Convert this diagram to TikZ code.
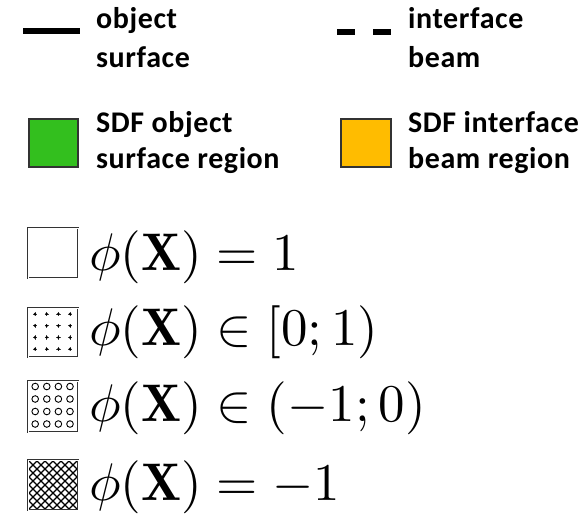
\documentclass[tikz,border=0pt]{standalone}
\usepackage{fontspec}
\newfontfamily\calibri[LetterSpace=2]{Carlito}
\definecolor{sdfgreen}{RGB}{51,191,30}
\definecolor{sdforange}{RGB}{255,188,0}
\begin{document}
\begin{tikzpicture}[x=1pt,y=-1pt,
  lbl/.style={font=\calibri\bfseries\fontsize{30}{36}\selectfont, anchor=base west, inner sep=0pt},
  mth/.style={font=\normalsize, scale=5.3, anchor=base west, inner sep=0pt},
  legline/.style={line width=6pt},
  swatch/.style={draw=black!80, line width=1.2pt},
  mbox/.style={draw=black!80, line width=0.9pt, double=white, double distance=0.9pt}]
\useasboundingbox (0,0) rectangle (585,513);
% line legend
\coordinate (s1) at (23,31); \coordinate (s2) at (80,31);
\draw[legline] (s1) -- (s2);
\coordinate (d1) at (337,32); \coordinate (d2) at (391,32);
\draw[legline, dash pattern=on 18pt off 18pt] (d1) -- (d2);
\node[lbl] (t1a) at (96,29) {object};
\node[lbl] (t1b) at (96,68) {surface};
\node[lbl] (t2a) at (408,29) {interface};
\node[lbl] (t2b) at (408,68) {beam};
% colour swatches
\draw[swatch, fill=sdfgreen] (29,119) rectangle (78,167);
\draw[swatch, fill=sdforange] (341,119) rectangle (391,167);
\node[lbl] (t3a) at (96,132) {SDF object};
\node[lbl] (t3b) at (96,168) {surface region};
\node[lbl] (t4a) at (408,132) {SDF interface};
\node[lbl] (t4b) at (408,168) {beam region};
% phi swatches
\draw[mbox] (28,228) rectangle (78,278);
\draw[mbox] (28,308) rectangle (78,357);
\foreach \i in {0,...,3} \foreach \j in {0,...,3} {
  \draw[line width=0.8pt, black!70] ({35+\i*11.7-2.2},{314+\j*11.7}) -- ++(4.4,0)
                          ({35+\i*11.7},{314+\j*11.7-2.2}) -- ++(0,4.4);
  \fill ({35+\i*11.7},{314+\j*11.7}) circle (1.5pt);
}
\draw[mbox] (28,381) rectangle (78,432);
\foreach \i in {0,...,3} \foreach \j in {0,...,3} {
  \draw[line width=0.9pt] ({35.2+\i*11.6},{386.5+\j*12.5}) circle (3.3pt);
}
\begin{scope}
  \clip (28,460) rectangle (78,510);
  \foreach \k in {-56,-48,...,56} {
    \draw[line width=1.3pt] ({28+\k},460) -- ++(50,50);
    \draw[line width=1.3pt] ({28+\k},510) -- ++(50,-50);
  }
\end{scope}
\draw[mbox] (28,460) rectangle (78,510);
\node[mth] (m1) at (88,270) {$\phi(\mathbf{X}) = 1$};
\node[mth] (m2) at (88,345) {$\phi(\mathbf{X}) \in [0;1)$};
\node[mth] (m3) at (88,421) {$\phi(\mathbf{X}) \in (-1;0)$};
\node[mth] (m4) at (88,500) {$\phi(\mathbf{X}) = -1$};
\end{tikzpicture}
\end{document}
